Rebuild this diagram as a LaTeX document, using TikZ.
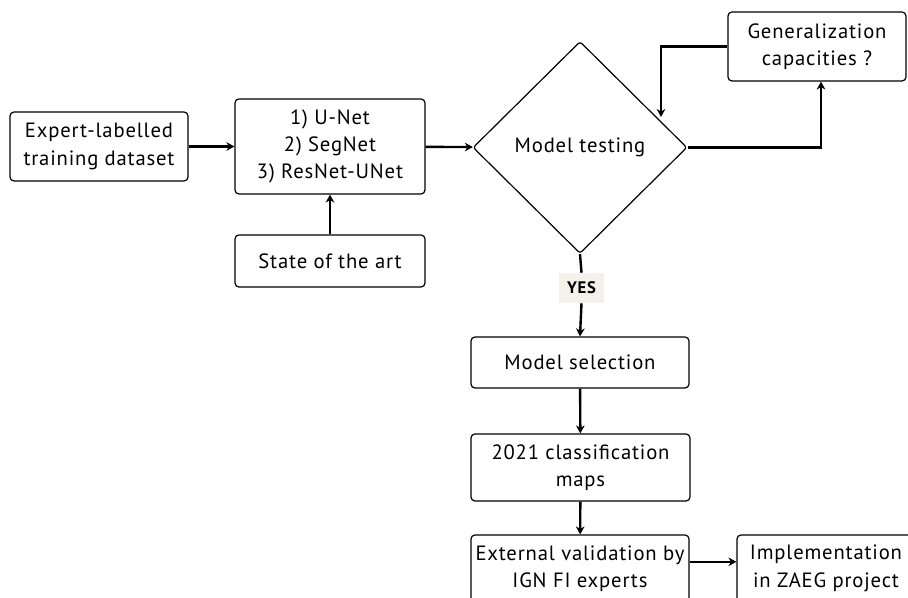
\documentclass[tikz,border=0pt]{standalone}
\usepackage{fontspec}
\setmainfont{PT Sans}[LetterSpace=4]
\usetikzlibrary{shapes.geometric,arrows.meta,calc}
\definecolor{yesbg}{HTML}{F4F1EA}
\tikzset{
  box/.style={draw, rounded corners=3pt, line width=0.9pt, align=center, inner sep=0pt, font=\fontsize{15.5}{20.5}\selectfont},
  conn/.style={line width=1.8pt, -{Stealth[length=6pt,width=6.5pt]}},
  dec/.style={draw, diamond, line width=0.9pt, inner sep=0pt, rounded corners=2pt, font=\fontsize{15.5}{20.5}\selectfont},
}
\begin{document}
\begin{tikzpicture}[x=0.75pt,y=-0.75pt]
\useasboundingbox (0,0) rectangle (908,598);
\clip (0,0) rectangle (908,598);
\node[box, minimum width=133.5pt, minimum height=51.75pt] (exp) at (99,146.5) {Expert-labelled\\training dataset};
\node[box, minimum width=142.5pt, minimum height=71.25pt] (net) at (330,146.5) {1) U-Net\\2) SegNet\\3) ResNet-UNet};
\node[box, minimum width=142.5pt, minimum height=39pt] (soa) at (330,261) {State of the art};
\node[dec, minimum width=160.5pt, minimum height=159pt] (test) at (580,147.5) {Model testing};
\node[box, minimum width=133.5pt, minimum height=51.75pt] (gen) at (817,46.5) {Generalization\\capacities ?};
\node[box, minimum width=163.5pt, minimum height=38.25pt] (sel) at (580,362.5) {Model selection};
\node[box, minimum width=164.25pt, minimum height=50.25pt] (maps) at (580.5,467.5) {2021 classification\\maps};
\node[box, minimum width=163.5pt, minimum height=50.25pt] (ext) at (580,568.5) {External validation by\\IGN FI experts};
\node[box, minimum width=133.5pt, minimum height=50.25pt] (impl) at (826,568.5) {Implementation\\in ZAEG project};
\node[fill=yesbg, font=\fontsize{12.5}{14}\selectfont\bfseries, minimum width=33.75pt, minimum height=22.5pt, inner sep=0pt] (yes) at (581.5,288) {YES};
\coordinate (fb) at (661,117);
\draw[conn] (exp) -- (net);
\draw[conn] (soa) -- (net);
\draw[conn] (net) -- (test);
\draw[conn] (test.east) -| ([xshift=3pt]gen.south);
\draw[conn] (gen.west) -| (fb);
\draw[line width=1.8pt] (test.south) -- (yes.north);
\draw[conn] (yes.south) -- (sel.north);
\draw[conn] (sel) -- (maps);
\draw[conn] (maps) -- (ext);
\draw[conn] ([yshift=5pt]ext.east) -- ([yshift=5pt]impl.west);
\end{tikzpicture}
\end{document}
